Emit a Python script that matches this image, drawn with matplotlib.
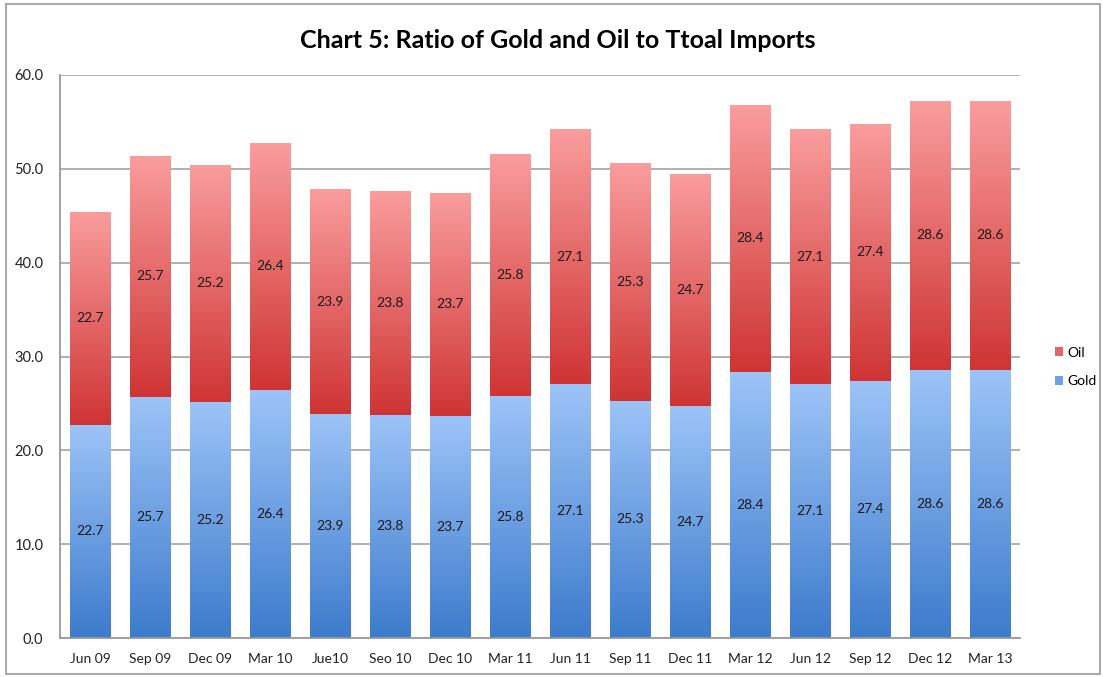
import numpy as np
import matplotlib.pyplot as plt
from matplotlib.patches import Rectangle
from matplotlib.colors import LinearSegmentedColormap

plt.rcParams['font.family'] = ['Lato', 'DejaVu Sans']

# data
quarters = ['Jun 09', 'Sep 09', 'Dec 09', 'Mar 10', 'Jue10', 'Seo 10', 'Dec 10', 'Mar 11',
            'Jun 11', 'Sep 11', 'Dec 11', 'Mar 12', 'Jun 12', 'Sep 12', 'Dec 12', 'Mar 13']
gold = [22.7, 25.7, 25.2, 26.4, 23.9, 23.8, 23.7, 25.8,
        27.1, 25.3, 24.7, 28.4, 27.1, 27.4, 28.6, 28.6]
oil = [22.7, 25.7, 25.2, 26.4, 23.9, 23.8, 23.7, 25.8,
       27.1, 25.3, 24.7, 28.4, 27.1, 27.4, 28.6, 28.6]
yticks = [0, 10, 20, 30, 40, 50, 60]

gold_cmap = LinearSegmentedColormap.from_list('g', ['#3d7bcc', '#9dc4f8'])
oil_cmap = LinearSegmentedColormap.from_list('o', ['#cf3434', '#fa9d9d'])
grad = np.linspace(0, 1, 256).reshape(-1, 1)

fig = plt.figure(figsize=(11.03, 6.77), dpi=100)
ax = fig.add_axes([60 / 1103, 1 - 638 / 677, 960 / 1103, 563 / 677])

x = np.arange(len(quarters))
w = 0.67


def gradient_bars(bars, cmap):
    for b in bars:
        x0, y0 = b.get_x(), b.get_y()
        im = ax.imshow(grad, cmap=cmap, origin='lower', aspect='auto', zorder=2,
                       extent=(x0, x0 + b.get_width(), y0, y0 + b.get_height()))
        im.set_clip_path(b)


gb = ax.bar(x, gold, w, color='#6fa0e6', edgecolor='none', zorder=2, label='Gold')
ob = ax.bar(x, oil, w, bottom=gold, color='#e86464', edgecolor='none', zorder=2, label='Oil')
gradient_bars(gb, gold_cmap)
gradient_bars(ob, oil_cmap)

for i in range(len(quarters)):
    ax.text(x[i], gold[i] / 2, f'{gold[i]:.1f}', ha='center', va='center', fontsize=10,
            color='#1a1a1a', zorder=3)
    ax.text(x[i], gold[i] + oil[i] / 2, f'{oil[i]:.1f}', ha='center', va='center', fontsize=10,
            color='#1a1a1a', zorder=3)

ax.set_xlim(-0.5, len(quarters) - 0.5)
ax.set_ylim(0, 60)
ax.set_yticks(yticks)
ax.set_yticklabels([f'{v:.1f}' for v in yticks], fontsize=10.5)
ax.set_xticks(x)
ax.set_xticklabels(quarters, fontsize=10)
ax.tick_params(length=0, pad=11, colors='#222222')
ax.tick_params(axis='y', pad=12)
ax.yaxis.grid(True, color='#aaaaaa', linewidth=1.3, zorder=0)
ax.set_axisbelow(True)
for s in ['top', 'right']:
    ax.spines[s].set_visible(False)
for s in ['left', 'bottom']:
    ax.spines[s].set_color('#999999')
    ax.spines[s].set_linewidth(1.3)

# legend, oil on top
h, l = ax.get_legend_handles_labels()
leg = fig.legend(h[::-1], l[::-1], loc='center left', bbox_to_anchor=(1042 / 1103, 1 - 367 / 677),
                 frameon=False, fontsize=10, handlelength=0.6, handleheight=0.6,
                 handletextpad=0.3, labelspacing=1.2)

fig.text(558 / 1103, 1 - 40 / 677, 'Chart 5: Ratio of Gold and Oil to Ttoal Imports',
         ha='center', va='center', fontsize=18, fontweight='bold')

fig.patches.append(Rectangle((6 / 1103, 3 / 677), 1094 / 1103, 670 / 677,
                             transform=fig.transFigure, fill=False,
                             edgecolor='#aaaaaa', linewidth=1.5))

plt.savefig('out.png', dpi=100)
